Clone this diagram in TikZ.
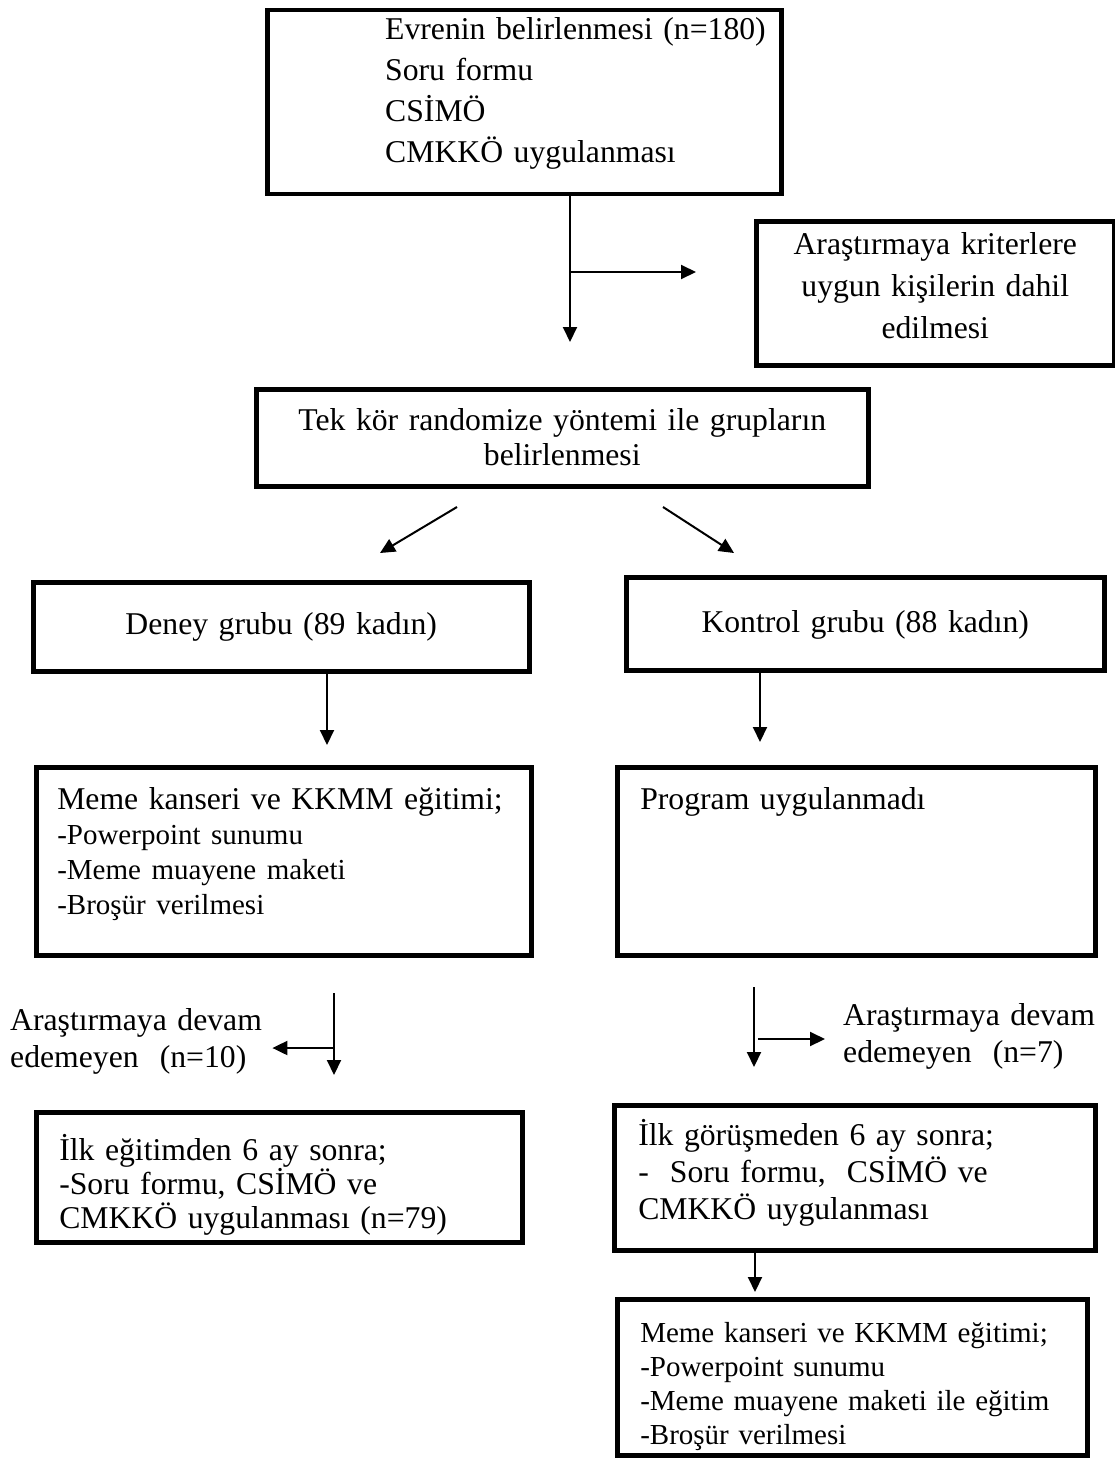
\documentclass[tikz,border=0pt]{standalone}
\usepackage{fontspec}
\setmainfont{Liberation Serif}
\usepackage{tikz}
\usetikzlibrary{arrows.meta}
\tikzset{
  kutu/.style = {draw=black, rectangle, line width=4.5pt, inner ysep=0pt,
    anchor=north west, font=\fontsize{31.7}{37}\selectfont},
  kutu_c/.style = {kutu, align=center},% ortali kutu
  kutu_l/.style = {kutu, align=left},% sola yasli kutu
  yazi/.style = {inner sep=0pt, align=left, anchor=base west,
    font=\fontsize{31.7}{37}\selectfont},
  satir/.style = {font=\fontsize{31.7}{#1}\selectfont},
  kucuk/.style = {font=\fontsize{29}{#1}\selectfont},
  ok/.style = {->, line width=2pt}
}

\begin{document}
\begin{tikzpicture}[x=1pt, y=-1pt, >={Triangle[length=15pt,width=14pt]}]
\useasboundingbox (0,0) rectangle (1115,1458);

% evren
\node [kutu, minimum width=514pt, minimum height=184pt] (evren) at (265,8) {};
\node [yazi, text width=400pt, satir=41] (evren_yazi) at (385,40)
  {Evrenin belirlenmesi (n=180)\\Soru formu\\CSİMÖ\\CMKKÖ uygulanması};
\node [kutu_c, text width=338pt, inner xsep=10pt, text height=33pt,
  text depth=111pt, satir=42] (kriter) at (754,219)
  {Araştırmaya kriterlere\\uygun kişilerin dahil\\edilmesi};
\node [kutu_c, text width=592pt, inner xsep=10pt, text height=41pt,
  text depth=56pt, satir=35] (grup) at (254,387)
  {Tek kör randomize yöntemi ile grupların\\belirlenmesi};

% gruplar
\node [kutu_c, text width=476pt, inner xsep=10pt, text height=52pt,
  text depth=37pt] (deney) at (31,580) {Deney grubu (89 kadın)};
\node [kutu_c, text width=458pt, inner xsep=10pt, text height=55pt,
  text depth=38pt] (kontrol) at (624,575) {Kontrol grubu (88 kadın)};

\node [kutu_l, text width=453pt, inner xsep=21pt, text height=42pt,
  text depth=146pt, satir=35] (egitim_d) at (34,765)
  {Meme kanseri ve KKMM~eğitimi;\\
   \fontsize{29}{35}\selectfont -Powerpoint sunumu\\
   -Meme muayene maketi\\-Broşür verilmesi};
\node [kutu_l, text width=432pt, inner xsep=23pt, text height=42pt,
  text depth=146pt] (program) at (615,765) {Program uygulanmadı};

% ayrilanlar
\node [yazi, text width=252pt, inner xsep=10pt] (cikan_d) at (0,1030)
  {Araştırmaya~devam\\edemeyen\ \ (n=10)};
\node [yazi, text width=260pt, inner xsep=18pt] (cikan_k) at (825,1025)
  {Araştırmaya~devam\\edemeyen\ \ (n=7)};

% alti ay sonra
\node [kutu_l, text width=440pt, inner xsep=23pt, text height=48pt,
  text depth=82pt, satir=34] (ilk_d) at (34,1110)
  {İlk eğitimden 6 ay sonra;\\-Soru formu, CSİMÖ ve\\CMKKÖ uygulanması (n=79)};
\node [kutu_l, text width=433pt, inner xsep=24pt, text height=40pt,
  text depth=105pt] (ilk_k) at (612,1103)
  {İlk görüşmeden 6 ay sonra;\\-\ \ Soru formu,\ \ CSİMÖ ve\\CMKKÖ uygulanması};
\node [kutu_l, text width=424pt, inner xsep=23pt, text height=43pt,
  text depth=113pt, kucuk=34] (egitim_k) at (615,1297)
  {Meme kanseri ve KKMM eğitimi;\\-Powerpoint sunumu\\
   -Meme muayene maketi ile eğitim\\-Broşür verilmesi};

% oklar
\coordinate (o1) at (570,342);
\coordinate (o2) at (696,272);
\coordinate (o3a) at (457,507);
\coordinate (o3b) at (380,553);
\coordinate (o4a) at (663,507);
\coordinate (o4b) at (734,553);
\coordinate (o5) at (327,745);
\coordinate (o6) at (760,742);
\coordinate (o7a) at (334,993);
\coordinate (o7b) at (334,1075);
\coordinate (o7c) at (334,1048);
\coordinate (o8a) at (754,987);
\coordinate (o8b) at (754,1067);
\coordinate (o8c) at (758,1039);
\coordinate (o9) at (755,1292);

\draw [ok] (evren.south -| o1) -- (o1);
\draw [ok] (o1 |- o2) -- (o2);
\draw [ok] (o3a) -- (o3b);
\draw [ok] (o4a) -- (o4b);
\draw [ok] (deney.south -| o5) -- (o5);
\draw [ok] (kontrol.south -| o6) -- (o6);
\draw [ok] (o7a) -- (o7b);
\draw [ok] (o7c) -- (o7c -| cikan_d.east);
\draw [ok] (o8a) -- (o8b);
\draw [ok] (o8c) -- (o8c -| cikan_k.west);
\draw [ok] (ilk_k.south -| o9) -- (o9);

\end{tikzpicture}
\end{document}
